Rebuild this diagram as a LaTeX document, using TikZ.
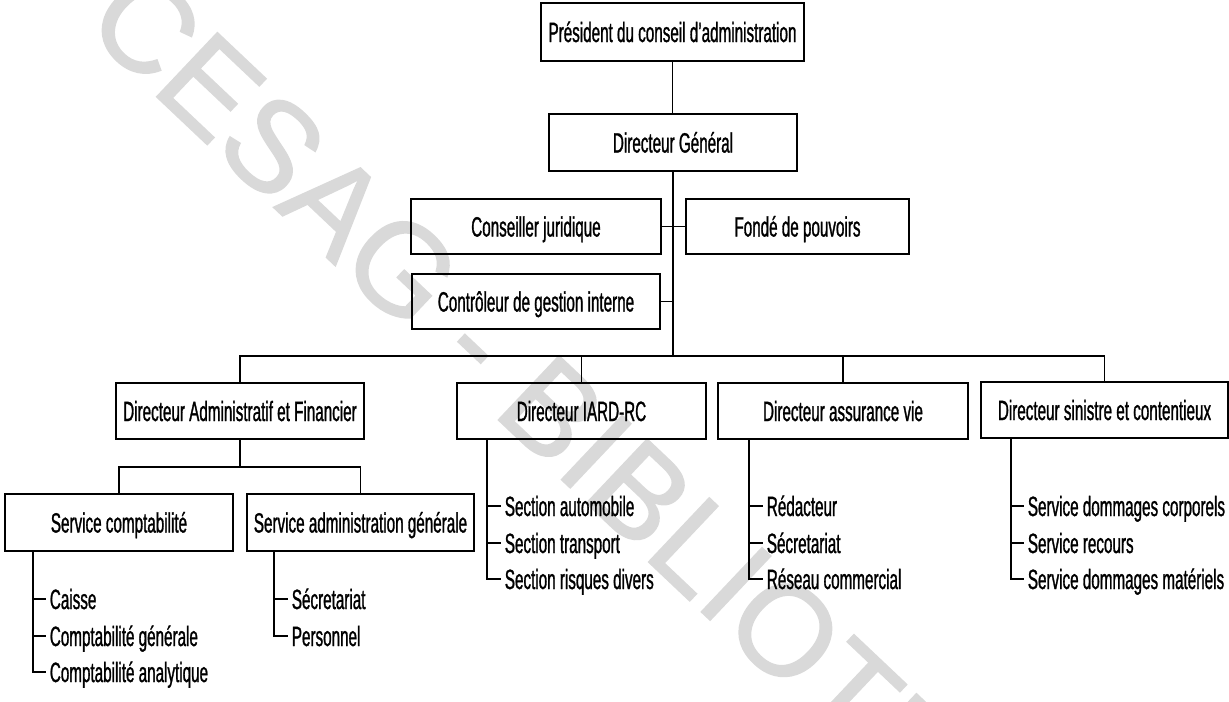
\documentclass[tikz,border=0pt]{standalone}
\usepackage{fontspec}
\setmainfont{Liberation Sans}[FakeStretch=0.545,FakeBold=1]
\newfontfamily\wmfont{Liberation Sans}[FakeBold=1.2]
\usepackage{tikz}
\usetikzlibrary{positioning,calc}
\tikzstyle{box}  =[draw, line width=1pt, inner sep=0pt, align=center,
                   text height=11.4pt, text depth=0pt,
                   font=\fontsize{15.9}{19}\selectfont]
\tikzstyle{item} =[anchor=west, inner sep=2pt, text height=11.4pt,
                   text depth=0pt, font=\fontsize{15.9}{19}\selectfont]
\tikzstyle{link} =[line width=1pt]

\begin{document}
\begin{tikzpicture}[x=0.02cm, y=-0.02cm]
    \useasboundingbox (0,0) rectangle (1229,701);
    \clip (0,0) rectangle (1229,701);
    % filigrane
    \node[anchor=west, inner sep=0pt, rotate=-43.4, text=black!15,
          font=\wmfont\fontsize{73}{73}\selectfont] (wm) at (104,2)
          {CESAG - BIBLIOTHEQUE};
    \begin{scope}
        % direction
        \node[box, minimum width=5.26cm, minimum height=1.16cm] (pca) at (672.5,32) {Président du conseil d'administration};
        \node[box, minimum width=4.96cm, minimum height=1.14cm] (dg) at (673,142.5) {Directeur Général};
        \node[box, minimum width=5.00cm, minimum height=1.10cm] (cj) at (536,226.5) {Conseiller juridique};
        \node[box, minimum width=4.46cm, minimum height=1.10cm] (fp) at (797.5,226.5) {Fondé de pouvoirs};
        \node[box, minimum width=4.96cm, minimum height=1.10cm] (cg) at (536,301.5) {Contrôleur de gestion interne};
        % directions
        \node[box, minimum width=4.96cm, minimum height=1.12cm] (daf) at (240,411) {Directeur Administratif et Financier};
        \node[box, minimum width=4.98cm, minimum height=1.12cm] (iard) at (581.5,411) {Directeur IARD-RC};
        \node[box, minimum width=5.00cm, minimum height=1.12cm] (dav) at (843,411) {Directeur assurance vie};
        \node[box, minimum width=4.94cm, minimum height=1.12cm] (dsc) at (1104.5,410) {Directeur sinistre et contentieux};
        \node[box, minimum width=4.56cm, minimum height=1.14cm] (sc) at (119,522.5) {Service comptabilité};
        \node[box, minimum width=4.54cm, minimum height=1.14cm] (sag) at (360.5,522.5) {Service administration générale};
        % listes
        \node[item] (ca) at (46,599) {Caisse};
        \node[item] (cgn) at (46,636) {Comptabilité générale};
        \node[item] (can) at (46,672) {Comptabilité analytique};
        \node[item] (sec) at (288,599) {Sécretariat};
        \node[item] (per) at (288,636) {Personnel};
        \node[item] (sa) at (501,506) {Section automobile};
        \node[item] (st) at (501,543) {Section transport};
        \node[item] (sr) at (501,579) {Section risques divers};
        \node[item] (red) at (763,506) {Rédacteur};
        \node[item] (sct) at (763,543) {Sécretariat};
        \node[item] (rc) at (763,579) {Réseau commercial};
        \node[item] (sdc) at (1024,506) {Service dommages corporels};
        \node[item] (sre) at (1024,543) {Service recours};
        \node[item] (sdm) at (1024,579) {Service dommages matériels};
        \coordinate (bus) at (673,356);
        \coordinate (sbus) at (240,467);
        \coordinate (scT) at (33,551);
        \coordinate (sagT) at (274,551);
        \coordinate (iardT) at (487,439);
        \coordinate (davT) at (749,439);
        \coordinate (dscT) at (1011,438);
        % liaisons
        \draw[link] (pca.south) -- (pca.south |- dg.north);
        \draw[link] (dg.south) -- (dg.south |- bus);
        \draw[link] (cj.east) -- (fp.west);
        \draw[link] (cg.east) -- (cg.east -| dg.south);
        \draw[link] (daf.north) |- (bus) -| (dsc.north);
        \draw[link] (iard.north) -- (iard.north |- bus);
        \draw[link] (dav.north) -- (dav.north |- bus);
        \draw[link] (daf.south) -- (sbus);
        \draw[link] (sc.north) |- (sbus) -| (sag.north);
        \draw[link] (scT) |- (ca.west);
        \draw[link] (scT) |- (cgn.west);
        \draw[link] (scT) |- (can.west);
        \draw[link] (sagT) |- (sec.west);
        \draw[link] (sagT) |- (per.west);
        \draw[link] (iardT) |- (sa.west);
        \draw[link] (iardT) |- (st.west);
        \draw[link] (iardT) |- (sr.west);
        \draw[link] (davT) |- (red.west);
        \draw[link] (davT) |- (sct.west);
        \draw[link] (davT) |- (rc.west);
        \draw[link] (dscT) |- (sdc.west);
        \draw[link] (dscT) |- (sre.west);
        \draw[link] (dscT) |- (sdm.west);
    \end{scope}
\end{tikzpicture}
\end{document}
